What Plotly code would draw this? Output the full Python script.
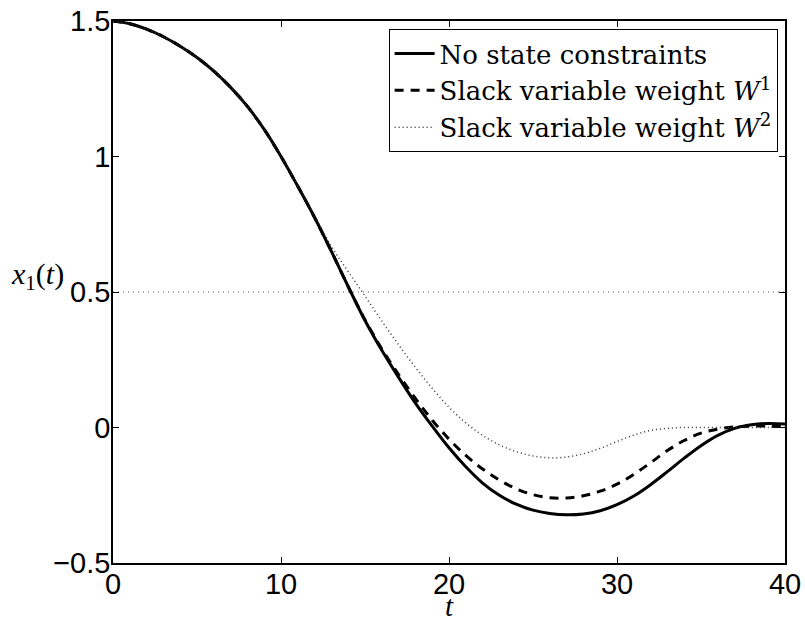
import plotly.graph_objects as go

t = list(range(0, 41))

no_constraints = [1.5, 1.49, 1.47, 1.442, 1.407, 1.365, 1.315, 1.255, 1.185, 1.10,
                  1.0, 0.89, 0.775, 0.65, 0.52, 0.395, 0.285, 0.185, 0.09, 0.005,
                  -0.075, -0.145, -0.205, -0.25, -0.283, -0.305, -0.317, -0.322, -0.319, -0.307,
                  -0.285, -0.253, -0.211, -0.163, -0.113, -0.067, -0.029, -0.003, 0.010, 0.015,
                  0.013]

weight_w1 = [1.5, 1.49, 1.47, 1.442, 1.407, 1.365, 1.315, 1.255, 1.185, 1.10,
             1.0, 0.89, 0.775, 0.65, 0.52, 0.397, 0.29, 0.195, 0.107, 0.027,
             -0.043, -0.103, -0.153, -0.194, -0.226, -0.248, -0.259, -0.26, -0.252, -0.235,
             -0.209, -0.173, -0.13, -0.085, -0.048, -0.021, -0.006, 0.002, 0.005, 0.005,
             0.003]

weight_w2 = [1.5, 1.49, 1.47, 1.442, 1.407, 1.365, 1.315, 1.255, 1.185, 1.10,
             1.0, 0.89, 0.78, 0.668, 0.575, 0.485, 0.393, 0.305, 0.222, 0.145,
             0.075, 0.017, -0.029, -0.064, -0.089, -0.105, -0.112, -0.109, -0.097, -0.077,
             -0.052, -0.028, -0.011, -0.003, 0.0, 0.0, 0.0, 0.0, 0.0, 0.0,
             0.0]

constraint_level = 0.5
names = ["No state constraints",
         "Slack variable weight <i>W</i><sup>1</sup>",
         "Slack variable weight <i>W</i><sup>2</sup>"]

fig = go.Figure()
fig.add_trace(go.Scatter(x=t, y=no_constraints, mode="lines", name=names[0],
                         line=dict(color="black", width=3, shape="spline", smoothing=1)))
fig.add_trace(go.Scatter(x=t, y=weight_w1, mode="lines", name=names[1],
                         line=dict(color="black", width=3, dash="9px,7px", shape="spline", smoothing=1)))
fig.add_trace(go.Scatter(x=t, y=weight_w2, mode="lines", name=names[2],
                         line=dict(color="#333333", width=1.5, dash="1px,3px", shape="spline", smoothing=1)))
fig.add_trace(go.Scatter(x=[0, 40], y=[constraint_level, constraint_level], mode="lines",
                         showlegend=False,
                         line=dict(color="#555555", width=1, dash="1px,4px")))

axis_common = dict(showline=True, linecolor="black", linewidth=1.5, mirror="ticks",
                   ticks="inside", ticklen=6, tickcolor="black", tickwidth=1,
                   showgrid=False, zeroline=False, automargin=False,
                   tickfont=dict(family="Liberation Sans, Arial", size=29, color="black"))

fig.update_xaxes(range=[0, 40], tickvals=[0, 10, 20, 30, 40], ticklabelstandoff=-6, **axis_common)
fig.update_yaxes(range=[-0.5, 1.5], tickvals=[-0.5, 0, 0.5, 1, 1.5],
                 ticktext=["\u22120.5", "0", "0.5", "1", "1.5"], ticklabelstandoff=-5, **axis_common)

fig.add_annotation(text="<i>x</i><sub>1</sub>(<i>t</i>)", xref="paper", yref="y",
                   x=-0.155, y=0.56, showarrow=False, xanchor="left",
                   font=dict(family="Liberation Serif, Times New Roman", size=30, color="black"))
fig.add_annotation(text="<i>t</i>", xref="x", yref="paper", x=20, y=-0.08,
                   showarrow=False, yanchor="middle",
                   font=dict(family="Liberation Serif, Times New Roman", size=29, color="black"))

fig.update_layout(
    width=805, height=626,
    margin=dict(l=113, r=20, t=21, b=63),
    paper_bgcolor="white", plot_bgcolor="white",
    legend=dict(x=0.989, y=0.985, xanchor="right", yanchor="top",
                bordercolor="black", borderwidth=1, bgcolor="white",
                font=dict(family="DejaVu Serif", size=26, color="black"),
                tracegroupgap=0, itemwidth=40),
)

fig.write_html("out.html")
